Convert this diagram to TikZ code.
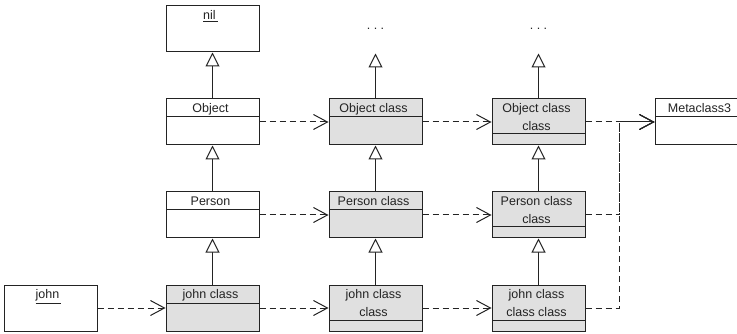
\documentclass[tikz,border=0pt]{standalone}
\usepackage{fontspec}
\setmainfont{Liberation Sans}
\usetikzlibrary{positioning, arrows.meta}

\definecolor{clsfill}{RGB}{224,224,224}
\definecolor{clsline}{RGB}{35,35,35}

\tikzset{
    cls/.style={draw=clsline, line width=1pt, fill=white, minimum width=93pt, minimum height=46pt, inner sep=0pt},
    metacls/.style={cls, fill=clsfill},
    cmp/.style={path picture={\draw[clsline, line width=1pt] ([yshift=-#1]path picture bounding box.north west) -- ([yshift=-#1]path picture bounding box.north east);}},
    title/.style={anchor=north, inner sep=0pt, xshift=-2pt, yshift=-5pt, align=center, text=clsline, font=\fontsize{12.5}{18}\selectfont},
    ellip/.style={inner sep=0pt, text depth=24pt, text=clsline, font=\fontsize{12.5}{18}\selectfont},
    inherit/.style={draw=clsline, line width=1pt, -{Triangle[length=14pt, width=14pt, fill=white]}},
    instof/.style={draw=clsline, line width=1pt, dash pattern=on 6pt off 4pt, -{Straight Barb[length=14pt, width=15pt]}},
}

\begin{document}
\begin{tikzpicture}[x=1pt, y=1pt, node distance=46pt and 69pt]
    \clip (0,0) rectangle (737,-334);

    % Define nodes
    \node[cls, label={[title]north:\underline{nil\,}}]                          (nil)           at (212.5,-29) {};
    \node[cls, cmp=18pt, label={[title]north:Object}, below = of nil]          (obj)           {};
    \node[cls, cmp=18pt, label={[title]north:Person}, below = of obj]          (person)        {};
    \node[metacls, cmp=18pt, label={[title]north:john class}, below = of person] (johncls)     {};
    \node[cls, label={[title]north:\underline{john\,}}, left = 68pt of johncls] (john)         {};

    \node[metacls, cmp=18pt, label={[title]north:Object class}, right = of obj]        (objcls)        {};
    \node[metacls, cmp=18pt, label={[title]north:Person class}, right = of person]     (personcls)     {};
    \node[metacls, cmp=35pt, label={[title]north:john class\\class}, right = of johncls] (johnclscls)  {};

    \node[metacls, cmp=35pt, label={[title]north:Object class\\class}, right = of objcls]           (objclscls)     {};
    \node[metacls, cmp=35pt, label={[title]north:Person class\\class}, right = of personcls]        (personclscls)  {};
    \node[metacls, cmp=35pt, label={[title]north:john class\\class class}, right = of johnclscls]   (johnclsclscls) {};

    \node[cls, cmp=18pt, label={[title]north:Metaclass3}, right = of objclscls] (meta) {};

    \node[ellip, above = 45pt of objcls]    (objclsup)    {.\kern3.5pt.\kern3.5pt.};
    \node[ellip, above = 45pt of objclscls] (objclsclsup) {.\kern3.5pt.\kern3.5pt.};
    \coordinate[right = 34pt of objclscls]  (join);

    % Connect nodes
    \draw[inherit] (obj) -- (nil);
    \draw[inherit] (person) -- (obj);
    \draw[inherit] (johncls) -- (person);
    \draw[inherit] (objcls) -- (objclsup);
    \draw[inherit] (personcls) -- (objcls);
    \draw[inherit] (johnclscls) -- (personcls);
    \draw[inherit] (objclscls) -- (objclsclsup);
    \draw[inherit] (personclscls) -- (objclscls);
    \draw[inherit] (johnclsclscls) -- (personclscls);

    \draw[instof] (john) -- (johncls);
    \draw[instof] (johncls) -- (johnclscls);
    \draw[instof] (johnclscls) -- (johnclsclscls);
    \draw[instof] (person) -- (personcls);
    \draw[instof] (personcls) -- (personclscls);
    \draw[instof] (obj) -- (objcls);
    \draw[instof] (objcls) -- (objclscls);
    \draw[instof] (objclscls) -- (meta);
    \draw[instof] (personclscls) -| (join) -- (meta);
    \draw[instof] (johnclsclscls) -| (join) -- (meta);
\end{tikzpicture}
\end{document}
